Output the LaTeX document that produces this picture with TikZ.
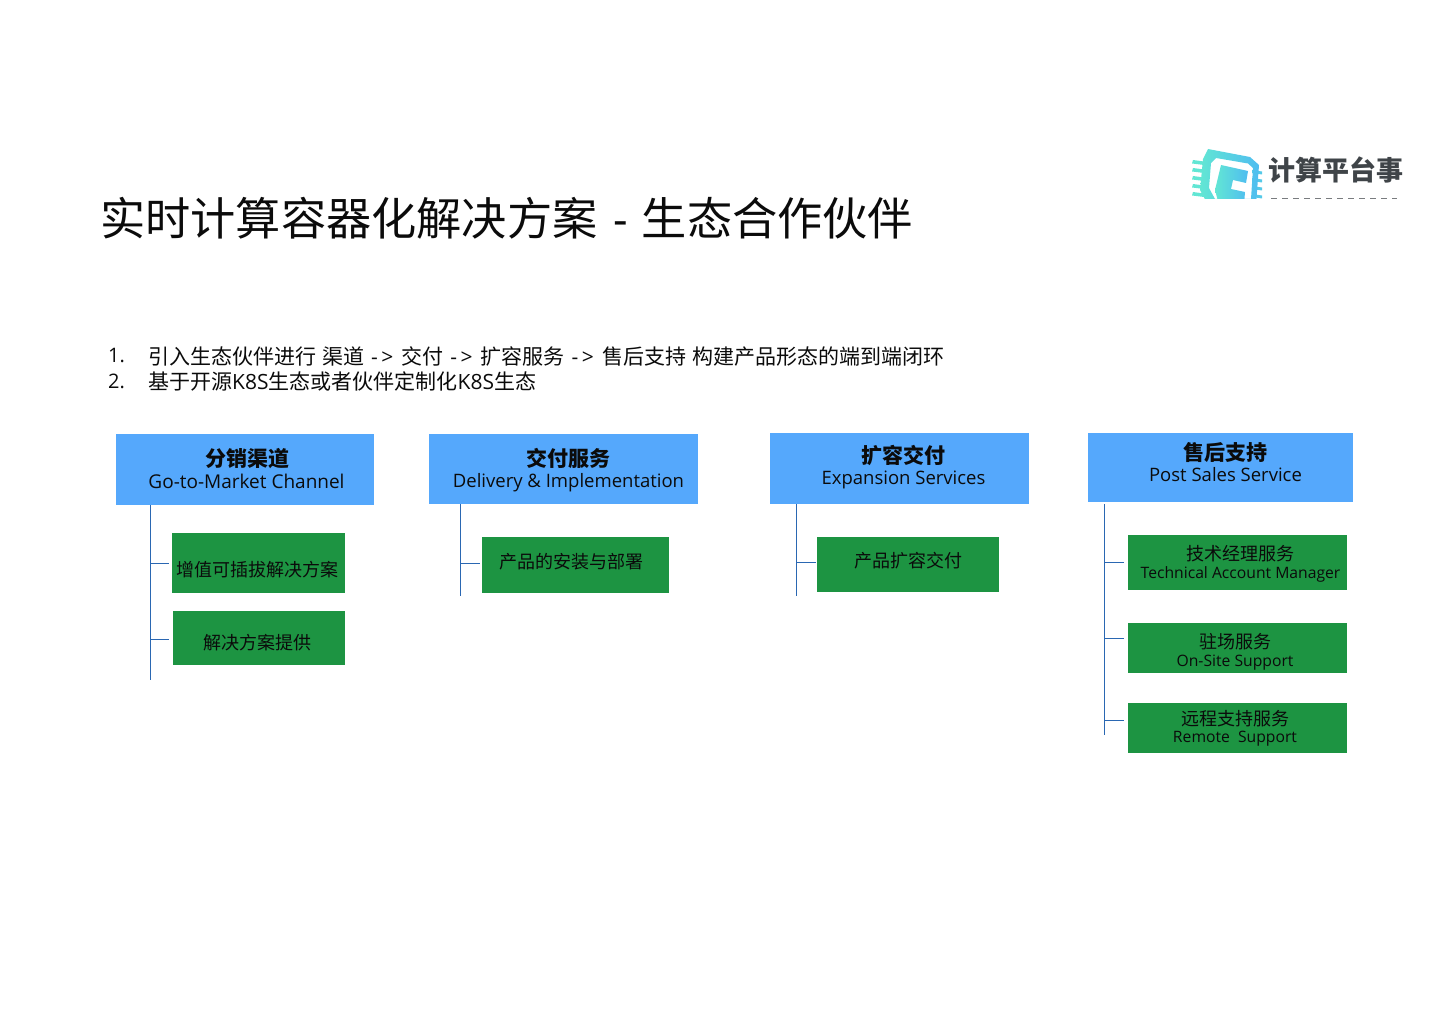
\documentclass[tikz,border=0pt]{standalone}
\usepackage{fontspec}
\setmainfont{Open Sans}
\newfontfamily\cjk{Noto Sans CJK SC}
\newfontfamily\lat{Open Sans}
\usetikzlibrary{calc}
\definecolor{hblue}{HTML}{55A8FC}
\definecolor{gbox}{HTML}{1D9442}
\definecolor{ln}{HTML}{2A67B2}
\definecolor{ink}{HTML}{0B0B0B}
\definecolor{logog}{HTML}{3F4448}
\definecolor{tealA}{HTML}{62E6D4}
\definecolor{tealB}{HTML}{4FBDF0}
\tikzset{
  x=1pt,y=-1pt,
  head/.style={fill=hblue,inner sep=0pt,anchor=north west},
  leaf/.style={fill=gbox,inner sep=0pt,anchor=north west},
  conn/.style={draw=ln,line width=0.9pt},
  txt/.style={inner sep=0pt,text=ink,anchor=center},
}
\newcommand{\headtxt}[1]{{\cjk\fontsize{21}{24}\selectfont\bfseries #1}}
\newcommand{\headen}[1]{{\fontsize{18.5}{22}\selectfont #1}}
\newcommand{\leafzh}[1]{{\cjk\fontsize{18}{22}\selectfont #1}}
\newcommand{\leafen}[1]{{\fontsize{15.7}{20}\selectfont #1}}
\newcommand{\boxat}[6]{\node[#1,minimum width=#4pt-#2pt,minimum height=#5pt-#3pt] (#6) at (#2,#3) {};}
\newcommand{\arw}{{\lat -\hspace{3.5pt}>}}
\begin{document}
\begin{tikzpicture}
\useasboundingbox (0,0) rectangle (1440,1019);
% Title
\node[txt,anchor=west] (title) at (100,218) {\fontsize{45.2}{50}\selectfont\cjk 实时计算容器化解决方案\hspace{16pt}{\lat -}\hspace{14pt}生态合作伙伴};
% list
\node[txt,anchor=west] (n1) at (108,356) {\fontsize{20}{24}\selectfont 1.};
\node[txt,anchor=west] (n2) at (108,381) {\fontsize{20}{24}\selectfont 2.};
\node[txt,anchor=west] (l1) at (148,356) {\fontsize{21}{24}\selectfont\cjk 引入生态伙伴进行\hspace{6pt}渠道\hspace{7pt}\arw\hspace{8pt}交付\hspace{7pt}\arw\hspace{8pt}扩容服务\hspace{7pt}\arw\hspace{8.5pt}售后支持\hspace{6.5pt}构建产品形态的端到端闭环};
\node[txt,anchor=west] (l2) at (148,381) {\fontsize{21}{24}\selectfont\cjk 基于开源{\lat K8S}生态或者伙伴定制化{\lat K8S}生态};
% headers
\boxat{head}{116}{434}{374}{505}{h1}
\boxat{head}{429}{434}{698}{504}{h2}
\boxat{head}{770}{433}{1029}{504}{h3}
\boxat{head}{1088}{433}{1353}{502}{h4}
\node[txt] (h1a) at (247,459) {\headtxt{分销渠道}};
\node[txt] (h1b) at (246.5,481.5) {{\fontsize{19}{22}\selectfont Go-to-Market Channel}};
\node[txt] (h2a) at (568,458) {\headtxt{交付服务}};
\node[txt] (h2b) at (568.5,483) {\headen{Delivery \& Implementation}};
\node[txt] (h3a) at (903,455) {\headtxt{扩容交付}};
\node[txt] (h3b) at (903.5,479.5) {\headen{Expansion Services}};
\node[txt] (h4a) at (1225,452) {\headtxt{售后支持}};
\node[txt] (h4b) at (1225.5,475) {\headen{Post Sales Service}};
% leaves
\boxat{leaf}{172}{533}{345}{593}{g1}
\boxat{leaf}{173}{611}{345}{665}{g2}
\boxat{leaf}{482}{537}{669}{593}{g3}
\boxat{leaf}{817}{537}{999}{592}{g4}
\boxat{leaf}{1128}{535}{1347}{590}{g5}
\boxat{leaf}{1128}{623}{1347}{673}{g6}
\boxat{leaf}{1128}{703}{1347}{753}{g7}
\node[txt] (g1a) at (257.5,570) {\leafzh{增值可插拔解决方案}};
\node[txt] (g2a) at (257.5,643) {\leafzh{解决方案提供}};
\node[txt] (g3a) at (571.5,562) {\leafzh{产品的安装与部署}};
\node[txt] (g4a) at (908,561) {\leafzh{产品扩容交付}};
\node[txt] (g5a) at (1240,554) {\leafzh{技术经理服务}};
\node[txt] (g5b) at (1240.5,574) {\leafen{Technical Account Manager}};
\node[txt] (g6a) at (1235,642) {\leafzh{驻场服务}};
\node[txt] (g6b) at (1235,663) {\leafen{On-Site Support}};
\node[txt] (g7a) at (1235,719) {\leafzh{远程支持服务}};
\node[txt] (g7b) at (1235,739) {\leafen{Remote\ \ Support}};
% connectors
\coordinate (t1e) at (150.4,680); \coordinate (t2e) at (460.5,596); \coordinate (t3e) at (796.5,596); \coordinate (t4e) at (1104.7,735);
\draw[conn] (h1.south west -| t1e) -- (t1e);
\draw[conn] (h2.south west -| t2e) -- (t2e);
\draw[conn] (h3.south west -| t3e) -- (t3e);
\draw[conn,shorten <=2pt] (h4.south west -| t4e) -- (t4e);
\coordinate (b1) at (169,563); \coordinate (b2) at (169,639); \coordinate (b3) at (480,563);
\coordinate (b4) at (816,562); \coordinate (b5) at (1124,562); \coordinate (b6) at (1124,638); \coordinate (b7) at (1124,720);
\draw[conn] (t1e |- b1) -- (b1);
\draw[conn] (t1e |- b2) -- (b2);
\draw[conn] (t2e |- b3) -- (b3);
\draw[conn] (t3e |- b4) -- (b4);
\draw[conn] (t4e |- b5) -- (b5);
\draw[conn] (t4e |- b6) -- (b6);
\draw[conn] (t4e |- b7) -- (b7);
% logo
\begin{scope}
\clip (1185,142) rectangle (1264,198.5);
\foreach \y in {160,168,176,184,192}{\fill[tealA] (1193,\y) -- (1204,\y+1.5) -- (1204,\y+5) -- (1192,\y+3.5) -- cycle;}
\foreach \y in {170,178,186,194}{\fill[tealB!70!tealA] (1252,\y) -- (1262,\y+1.5) -- (1262,\y+4.5) -- (1252,\y+3) -- cycle;}
\shade[left color=tealA,right color=tealB,even odd rule]
 (1208,149) -- (1250,157) -- (1259,165) -- (1256,205) -- (1208,205) -- (1200,190) -- (1203,159) -- cycle
 (1216,158) -- (1211,163) -- (1209,188) -- (1215,199) -- (1251,199) -- (1253,168) -- (1248,163.5) -- cycle;
\shade[left color=tealA,right color=tealB]
 (1221,165) -- (1248,171) -- (1246,183) -- (1233,180) -- (1231,189) -- (1245,192) -- (1244,205) -- (1219,205) -- (1215,190) -- cycle;
\end{scope}
\node[txt,anchor=west,text=logog] (lg) at (1268,170) {\fontsize{27}{30}\selectfont\cjk\bfseries 计算平台事};
\draw[logog!70,line width=0.8pt,dash pattern=on 6pt off 5pt] (1271,198.5) -- (1397,198.5);
\end{tikzpicture}
\end{document}
